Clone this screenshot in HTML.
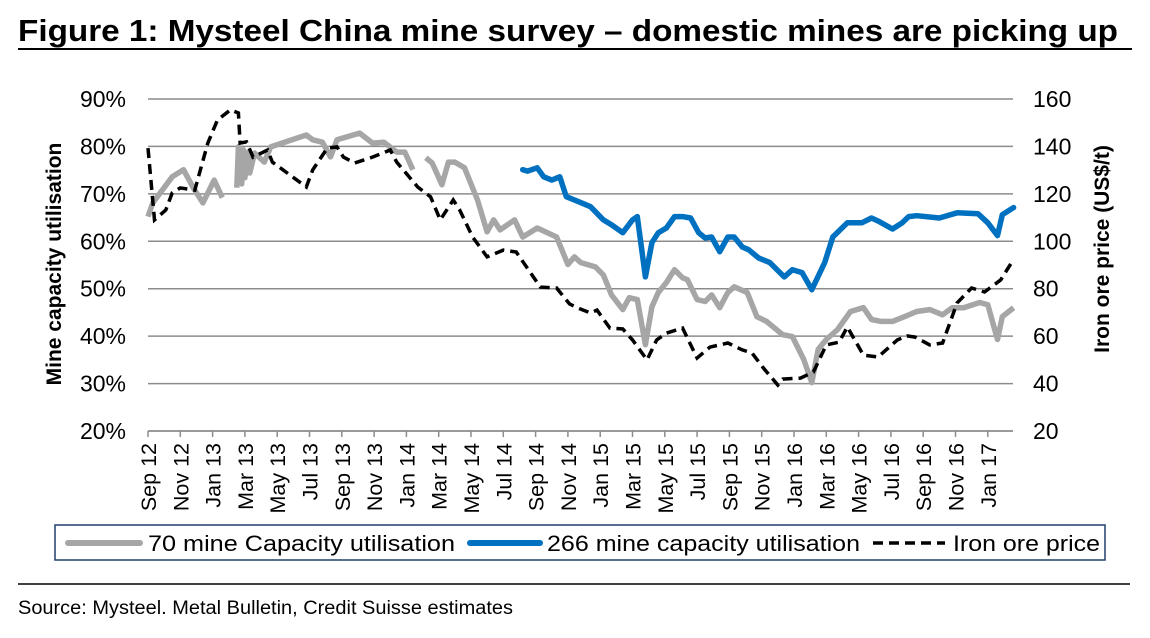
<!DOCTYPE html>
<html><head><meta charset="utf-8">
<style>
body{margin:0;background:#fff;width:1150px;height:633px;overflow:hidden;font-family:"Liberation Sans",Arial,sans-serif;}
</style></head><body>
<svg width="1150" height="633" xmlns="http://www.w3.org/2000/svg" font-family="Liberation Sans, Arial, sans-serif">
<text x="18" y="41" font-size="31" font-weight="bold" fill="#000" textLength="1100" lengthAdjust="spacingAndGlyphs">Figure 1: Mysteel China mine survey – domestic mines are picking up</text>
<line x1="18" y1="49" x2="1132" y2="49" stroke="#000" stroke-width="2"/>
<g id="grid"></g><g id="axes"></g><g id="series"></g>
<text transform="translate(61,264) rotate(-90)" text-anchor="middle" font-size="21" font-weight="bold">Mine capacity utilisation</text>
<text transform="translate(1109,249) rotate(-90)" text-anchor="middle" font-size="21" font-weight="bold">Iron ore price (US$/t)</text>
<g>
<rect x="55" y="525" width="1050" height="35" fill="#fff" stroke="#1f3f6f" stroke-width="1.5"/>
<line x1="68" y1="543" x2="140" y2="543" stroke="#a6a6a6" stroke-width="6" stroke-linecap="round"/>
<text x="148" y="551" font-size="22" textLength="307" lengthAdjust="spacingAndGlyphs">70 mine Capacity utilisation</text>
<line x1="470" y1="543" x2="540" y2="543" stroke="#0070c0" stroke-width="6" stroke-linecap="round"/>
<text x="547" y="551" font-size="22" textLength="313" lengthAdjust="spacingAndGlyphs">266 mine capacity utilisation</text>
<line x1="873" y1="543" x2="945" y2="543" stroke="#000" stroke-width="3.5" stroke-dasharray="10,6"/>
<text x="953" y="551" font-size="22" textLength="147" lengthAdjust="spacingAndGlyphs">Iron ore price</text>
</g>
<line x1="18" y1="584" x2="1130" y2="584" stroke="#000" stroke-width="1.5"/>
<text x="18" y="614" font-size="19" textLength="495" lengthAdjust="spacingAndGlyphs">Source: Mysteel. Metal Bulletin, Credit Suisse estimates</text>
</svg>
<script>
const xLabels=["Sep 12","Nov 12","Jan 13","Mar 13","May 13","Jul 13","Sep 13","Nov 13","Jan 14","Mar 14","May 14","Jul 14","Sep 14","Nov 14","Jan 15","Mar 15","May 15","Jul 15","Sep 15","Nov 15","Jan 16","Mar 16","May 16","Jul 16","Sep 16","Nov 16","Jan 17"];
const leftTicks=[20,30,40,50,60,70,80,90];
const rightTicks=[20,40,60,80,100,120,140,160];
// months since Sep 2012 ; null = gap
const greyMonths=[0,0.3,1.5,2.2,2.8,3.4,4.1,4.6,null,5.5,5.6,5.8,5.9,6.0,6.2,6.3,6.6,7.2,7.6,9.8,10.2,10.8,11.3,11.7,13.1,13.9,14.6,15.4,15.9,16.4,null,17.2,17.6,18.2,18.6,19.0,19.6,20.4,21.0,21.4,21.8,22.7,23.2,24.1,25.3,26.0,26.4,26.8,27.7,28.2,28.7,29.4,29.8,30.3,30.8,31.2,31.6,32.1,32.6,33.1,33.4,34.0,34.5,34.9,35.4,35.9,36.3,37.1,37.7,38.3,39.3,39.9,40.6,41.1,41.5,42.0,42.7,43.5,44.3,44.8,45.4,46.1,46.7,47.6,48.4,49.2,49.8,50.5,51.5,52.0,52.6,52.9,53.6];
const greyValues=[65.2,68.1,73.6,75.1,71.3,68.1,72.9,69.2,null,71.3,79.9,72.1,79.3,73.4,78.8,74.4,78.6,76.7,79.9,82.4,81.4,80.9,77.8,81.4,82.8,80.7,80.9,78.8,78.8,75.1,null,77.6,76.5,71.9,76.7,76.7,75.5,68.7,62.0,64.5,62.4,64.5,60.9,62.8,60.9,55.1,56.7,55.5,54.6,52.9,48.7,45.6,48.1,47.7,38.2,46.2,49.2,51.3,54.0,52.3,51.9,47.7,47.3,48.7,46.0,49.2,50.4,49.2,44.1,43.1,40.3,39.9,35.1,30.2,37.2,39.3,41.4,45.2,46.0,43.5,43.1,43.1,43.9,45.2,45.6,44.5,46.0,46.0,47.1,46.6,39.3,44.1,46.0];
const blueMonths=[23.2,23.5,24.1,24.5,25.0,25.5,25.9,26.7,27.4,28.2,28.7,29.4,30.0,30.3,30.8,31.2,31.6,32.1,32.6,33.1,33.6,34.1,34.5,34.9,35.4,35.9,36.3,36.8,37.2,37.8,38.5,39.4,39.9,40.5,41.1,41.9,42.4,43.3,44.2,44.8,45.3,46.1,46.7,47.1,47.6,49.0,50.1,51.4,52.0,52.6,52.9,53.6];
const blueValues=[75.1,74.8,75.5,73.6,72.9,73.6,69.4,68.3,67.3,64.5,63.5,61.8,64.5,65.2,52.5,59.7,61.8,62.8,65.2,65.2,64.9,61.8,60.7,60.9,57.8,60.9,60.9,58.8,58.2,56.5,55.5,52.5,54.0,53.4,49.8,55.5,60.9,63.9,63.9,64.9,64.1,62.6,63.9,65.2,65.4,64.9,66.0,65.8,63.9,61.2,65.6,67.1];
const oreMonths=[0,0.4,1.1,1.5,2.0,2.9,3.7,4.3,5.1,5.6,5.7,6.1,6.5,7.4,7.7,9.8,10.2,11.1,11.7,12.1,12.8,13.9,15.0,15.4,16.7,17.5,18.1,18.9,19.3,20.1,21.0,22.0,22.8,24.3,25.3,26.1,26.6,27.4,27.8,28.6,29.4,30.0,30.9,31.5,32.1,33.1,34.0,34.8,35.9,36.8,37.4,38.1,39.0,39.3,40.4,41.2,42.0,42.8,43.3,44.3,45.2,46.4,47.0,47.5,48.4,49.2,50.1,51.0,51.8,52.8,53.5];
const orePrices=[139.3,109.0,113.2,120.4,122.5,121.6,141.4,151.1,155.4,154.1,141.4,141.9,135.5,138.5,133.4,122.9,130.1,139.3,139.8,135.5,133.0,135.5,138.5,133.4,122.9,118.7,109.0,117.4,113.2,101.8,93.4,96.3,95.5,80.7,80.3,73.6,71.9,69.8,71.0,63.4,63.0,58.4,50.0,58.4,61.3,63.4,50.8,55.4,57.1,54.2,52.9,46.6,39.4,41.9,42.3,44.9,56.3,57.5,63.9,52.0,51.2,58.4,60.1,59.6,56.3,57.1,74.0,80.3,78.6,83.7,91.3];

const NS="http://www.w3.org/2000/svg";
const X0=148,X1=1013,Y0=431,Y1=99,MPX=16.15;
const xScale=m=>X0+m*MPX;
const yL=v=>Y0-(v-20)/70*(Y0-Y1);
const yR=v=>Y0-(v-20)/140*(Y0-Y1);
function mk(tag,attrs,parent){const e=document.createElementNS(NS,tag);for(const k in attrs)e.setAttribute(k,attrs[k]);parent.appendChild(e);return e;}
const grid=document.getElementById('grid'),axes=document.getElementById('axes'),ser=document.getElementById('series');
leftTicks.forEach((t,i)=>{
  const y=yL(t);
  const g=mk('line',{x1:X0,x2:X1,y1:y,y2:y,stroke:'#8c8c8c','stroke-width':1.5},grid);
  
  
  const tx=mk('text',{x:126,y:y+8,'text-anchor':'end','font-size':23},axes);
  tx.textContent=t+'%';
  
  
});
rightTicks.forEach(t=>{
  const tx=mk('text',{x:1033,y:yR(t)+8,'font-size':23},axes);
  tx.textContent=t;
  
  
});
const ax=mk('line',{x1:X0,x2:X1,y1:Y0,y2:Y0,stroke:'#8c8c8c','stroke-width':1.5},axes);


xLabels.forEach((l,i)=>{
  const x=xScale(i*2);
  const tk=mk('line',{x1:x,x2:x,y1:Y0,y2:Y0+6,stroke:'#8c8c8c','stroke-width':1.5},axes);
  
  
  const tx=mk('text',{transform:`translate(${x+8},443) rotate(-90)`,'text-anchor':'end','font-size':21.5},axes);
  tx.textContent=l;
  
  
});
function path(ms,vs,sc){let d='',pen=false;ms.forEach((m,i)=>{if(m===null||vs[i]===null){pen=false;return;}d+=(pen?'L':'M')+xScale(m).toFixed(1)+','+sc(vs[i]).toFixed(1);pen=true;});return d;}
const p1=mk('path',{d:path(greyMonths,greyValues,yL),fill:'none',stroke:'#a6a6a6','stroke-width':5.5,'stroke-linejoin':'round'},ser);


const p2=mk('path',{d:path(blueMonths,blueValues,yL),fill:'none',stroke:'#0070c0','stroke-width':5.5,'stroke-linejoin':'round','stroke-linecap':'round'},ser);


const p3=mk('path',{d:path(oreMonths,orePrices,yR),fill:'none',stroke:'#000','stroke-width':3.5,'stroke-dasharray':'10,6'},ser);


</script>
</body></html>
